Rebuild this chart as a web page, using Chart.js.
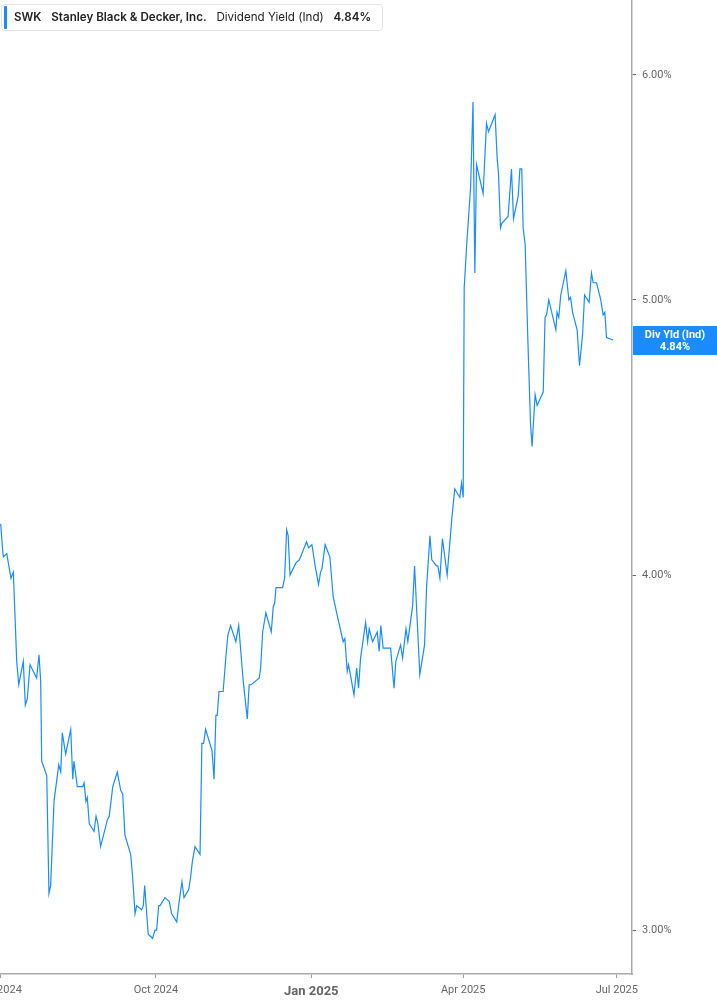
<!DOCTYPE html>
<html>
<head>
<meta charset="utf-8">
<script src="https://cdn.jsdelivr.net/npm/chart.js@4.4.1/dist/chart.umd.min.js"></script>
<style>
html, body { margin: 0; padding: 0; background: #fff; }
#wrap { position: relative; width: 717px; height: 1005px; }
#legend {
    position: absolute; left: 1px; top: 4px; height: 25px; width: 380px;
    border: 1px solid #e4e4e4; border-radius: 4px; background: #fff;
    font-family: Inter, "Noto Sans", sans-serif; font-size: 11.6px; color: #222;
    line-height: 25px; white-space: nowrap; box-sizing: content-box;
}
#legend .bar { position: absolute; left: 2px; top: 1px; width: 3px; height: 23px; background: #1a8cff; border-radius: 1px; }
#legend .txt { position: absolute; left: 12px; top: 0; }
#legend b { font-weight: 600; }
</style>
</head>
<body>
<div id="wrap">
    <canvas id="myChart" width="717" height="1005"></canvas>
    <div id="legend"><div class="bar"></div><div class="txt"><b>SWK</b>&nbsp;&nbsp;&nbsp;<b>Stanley Black &amp; Decker, Inc.</b>&nbsp;&nbsp;&nbsp;Dividend Yield (Ind)&nbsp;&nbsp;&nbsp;<b>4.84%</b></div></div>
</div>
<script>
// days since 1 Jul 2024
var days = [0, 1.2, 1.6, 3.6, 6.1, 7.5, 9.5, 10.7, 13.4, 14.6,
    15.8, 17.4, 21.3, 22.7, 23.7, 24.3, 27.3, 28.6, 29.6, 31.6,
    34.4, 35.6, 36.5, 38.5, 41.5, 42.7, 43.4, 45.4, 48.6, 49.4,
    50.5, 51.3, 52.5, 55.3, 56.5, 57.6, 59.2, 63.2, 64.3, 66.4,
    69.1, 71.1, 72.3, 73.6, 77.0, 78.2, 79.6, 80.6, 83.5, 84.5,
    85.3, 87.4, 90.0, 91.4, 92.4, 93.6, 94.4, 97.3, 99.9, 101.3,
    104.3, 105.4, 107.4, 108.6, 111.4, 112.5, 113.5, 115.1, 118.1, 119.2,
    120.2, 121.4, 125.2, 126.4, 127.5, 128.3, 129.3, 131.8, 133.5, 134.6,
    136.2, 139.3, 141.0, 143.7, 146.1, 147.2, 148.4, 153.2, 154.0, 155.2,
    157.1, 160.3, 161.5, 162.3, 163.1, 167.0, 168.2, 169.4, 170.3, 171.4,
    174.9, 176.9, 177.7, 181.2, 182.4, 184.4, 186.3, 188.3, 189.5, 190.3,
    192.2, 195.0, 197.0, 199.0, 202.9, 203.9, 205.3, 206.1, 209.3, 210.9,
    212.0, 213.2, 216.2, 217.4, 218.3, 220.3, 223.1, 224.2, 225.2, 226.6,
    231.0, 233.0, 234.1, 236.9, 238.1, 240.1, 241.2, 244.0, 245.2, 248.3,
    251.1, 252.3, 254.3, 255.4, 258.2, 259.0, 260.2, 261.7, 264.5, 267.3,
    269.0, 272.0, 273.0, 274.0, 274.6, 276.0, 278.4, 279.8, 280.9, 281.9,
    285.8, 287.8, 289.0, 292.9, 294.1, 294.9, 296.1, 296.9, 300.6, 302.6,
    303.8, 306.6, 307.6, 308.7, 309.5, 310.7, 312.3, 313.9, 314.8, 316.6,
    317.8, 321.4, 322.5, 323.4, 324.7, 328.9, 329.6, 330.6, 331.8, 334.8,
    336.6, 337.6, 338.8, 341.5, 342.9, 344.7, 345.9, 348.6, 350.0, 351.0,
    353.0, 355.5, 356.9, 357.9, 358.9, 362.8];
var yieldPct = [4.17, 4.08, 4.06, 4.07, 3.99, 4.01, 3.73, 3.66, 3.73, 3.60,
    3.62, 3.72, 3.68, 3.75, 3.67, 3.44, 3.40, 3.09, 3.11, 3.33,
    3.43, 3.41, 3.52, 3.46, 3.53, 3.39, 3.44, 3.37, 3.37, 3.38,
    3.33, 3.34, 3.27, 3.25, 3.29, 3.27, 3.21, 3.28, 3.29, 3.37,
    3.41, 3.36, 3.35, 3.24, 3.19, 3.13, 3.04, 3.06, 3.05, 3.06,
    3.11, 2.99, 2.98, 3.00, 3.00, 3.06, 3.06, 3.08, 3.07, 3.04,
    3.02, 3.06, 3.12, 3.08, 3.10, 3.13, 3.17, 3.21, 3.19, 3.49,
    3.49, 3.53, 3.47, 3.39, 3.57, 3.57, 3.64, 3.64, 3.75, 3.81,
    3.84, 3.79, 3.84, 3.67, 3.56, 3.66, 3.66, 3.68, 3.71, 3.82,
    3.88, 3.82, 3.90, 3.91, 3.96, 3.96, 3.99, 4.15, 4.13, 4.00,
    4.04, 4.05, 4.06, 4.11, 4.09, 4.10, 4.03, 3.97, 4.01, 4.02,
    4.10, 4.06, 3.93, 3.88, 3.79, 3.80, 3.70, 3.72, 3.63, 3.71,
    3.65, 3.74, 3.85, 3.79, 3.83, 3.79, 3.82, 3.76, 3.84, 3.77,
    3.77, 3.65, 3.73, 3.78, 3.74, 3.83, 3.79, 3.90, 4.03, 3.69,
    3.78, 3.96, 4.13, 4.05, 4.03, 4.03, 3.99, 4.12, 4.00, 4.19,
    4.29, 4.26, 4.31, 4.26, 5.05, 5.22, 5.48, 5.87, 5.11, 5.58,
    5.45, 5.77, 5.73, 5.81, 5.61, 5.54, 5.30, 5.32, 5.35, 5.56,
    5.34, 5.44, 5.56, 5.56, 5.30, 5.23, 4.84, 4.52, 4.44, 4.63,
    4.59, 4.64, 4.93, 4.94, 5.00, 4.88, 4.95, 4.93, 5.02, 5.12,
    5.00, 5.01, 4.95, 4.88, 4.74, 4.86, 5.02, 4.99, 5.11, 5.07,
    5.07, 5.00, 4.94, 4.95, 4.85, 4.84];
var tickDays = [0, 92, 184, 274, 365];
var tickLabels = ['Jul 2024', 'Oct 2024', 'Jan 2025', 'Apr 2025', 'Jul 2025'];
var yTicks = [3, 4, 5, 6];

var lineColor = '#1a8cff';

// blue box with the last value on the right axis
var lastLabel = {
    id: 'lastLabel',
    afterDraw: function (chart) {
        var last = yieldPct[yieldPct.length - 1];
        var y = chart.scales.y.getPixelForValue(last);
        var left = chart.chartArea.right + 1;
        var ctx = chart.ctx;
        ctx.save();
        ctx.fillStyle = lineColor;
        ctx.fillRect(left, y - 14, chart.width - left, 29);
        ctx.fillStyle = '#fff';
        ctx.font = 'bold 11px Roboto';
        ctx.textAlign = 'center';
        ctx.textBaseline = 'middle';
        var cx = left + (chart.width - left) / 2;
        ctx.fillText('Div Yld (Ind)', cx, y - 5);
        ctx.fillText(last.toFixed(2) + '%', cx, y + 7);
        ctx.restore();
    }
};

var ctx = document.getElementById('myChart').getContext('2d');
var myChart = new Chart(ctx, {
    type: 'line',
    data: {
        datasets: [{
            label: 'Dividend Yield (Ind)',
            data: days.map(function (d, i) { return { x: d, y: yieldPct[i] }; }),
            borderColor: lineColor,
            borderWidth: 1.2,
            pointRadius: 0,
            tension: 0,
            fill: false
        }]
    },
    options: {
        responsive: false,
        animation: false,
        layout: { padding: 0 },
        plugins: {
            legend: { display: false },
            tooltip: { enabled: false }
        },
        scales: {
            x: {
                type: 'linear',
                min: -0.4,
                max: 374,
                afterBuildTicks: function (s) {
                    s.ticks = tickDays.map(function (v) { return { value: v }; });
                },
                afterFit: function (s) {
                    s.height = 31;
                    s.paddingLeft = 0;
                    s.paddingRight = 0;
                },
                grid: { drawOnChartArea: false, drawTicks: true, tickLength: 4, color: '#999' },
                border: { color: '#aaa', width: 1.5 },
                ticks: {
                    autoSkip: false,
                    maxRotation: 0,
                    padding: 6,
                    color: '#666',
                    font: function (c) {
                        return c.index === 2
                            ? { family: 'Roboto', size: 13, weight: 'bold' }
                            : { family: 'Roboto', size: 11 };
                    },
                    callback: function (v) {
                        return tickLabels[tickDays.indexOf(v)];
                    }
                }
            },
            y: {
                type: 'logarithmic',
                position: 'right',
                min: 2.895,
                max: 6.376,
                afterBuildTicks: function (s) {
                    s.ticks = yTicks.map(function (v) { return { value: v }; });
                },
                afterFit: function (s) {
                    s.width = 85;
                    s.paddingTop = 0;
                    s.paddingBottom = 0;
                },
                grid: { drawOnChartArea: false, drawTicks: true, tickLength: 4, color: '#666' },
                border: { color: '#aaa', width: 1.5 },
                ticks: {
                    padding: 6,
                    color: '#666',
                    font: { family: 'Roboto', size: 11 },
                    callback: function (v) { return v.toFixed(2) + '%'; }
                }
            }
        }
    },
    plugins: [lastLabel]
});
</script>
</body>
</html>
